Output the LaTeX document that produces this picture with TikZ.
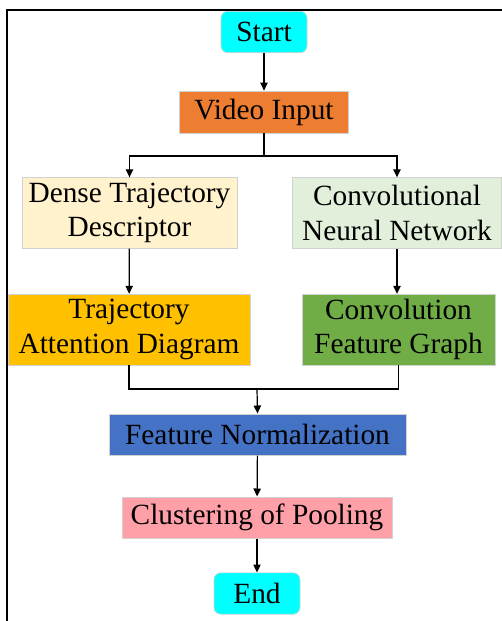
\documentclass[tikz,border=0pt]{standalone}
\usepackage{fontspec}
\setmainfont{Liberation Serif}
\usetikzlibrary{arrows.meta}

\definecolor{startcyan}{HTML}{00FFFF}
\definecolor{videoorange}{HTML}{ED7D31}
\definecolor{densecream}{HTML}{FFF2CC}
\definecolor{cnngreen}{HTML}{E2EFDA}
\definecolor{tadyellow}{HTML}{FFC000}
\definecolor{cfggreen}{HTML}{70AD47}
\definecolor{normblue}{HTML}{4472C4}
\definecolor{poolpink}{HTML}{FFA0A8}

\tikzset{
    stepbox/.style={draw=black!18, line width=0.5pt, inner sep=0pt, align=center,
        font=\fontsize{22}{26}\selectfont},
    termbox/.style={stepbox, fill=startcyan, rounded corners=5pt},
    flow/.style={line width=0.9pt, -{Triangle[length=6pt,width=5.5pt]}},
    flowline/.style={line width=0.9pt}
}

\begin{document}
\begin{tikzpicture}[x=0.75pt, y=-0.75pt]
    \useasboundingbox (0,0) rectangle (502,621);
    \draw[line width=0.8pt] (7,621) -- (7,10) -- (502,10);

    \node[termbox, minimum width=64.5pt, minimum height=31pt] (start) at (264,32) {Start};
    \node[stepbox, fill=videoorange, minimum width=127pt, minimum height=31.5pt] (video) at (264,112) {Video Input};
    \node[stepbox, fill=densecream, minimum width=161pt, minimum height=53pt] (dense) at (129.5,213) {Dense Trajectory\\Descriptor};
    \node[stepbox, fill=cnngreen, minimum width=157pt, minimum height=53pt] (cnn) at (397,213) {Convolutional\\Neural Network};
    \node[stepbox, fill=tadyellow, minimum width=181.5pt, minimum height=53pt] (tad) at (129,329.5) {Trajectory\\Attention Diagram};
    \node[stepbox, fill=cfggreen, minimum width=145pt, minimum height=53pt] (cfg) at (398.5,329.5) {Convolution\\Feature Graph};
    \node[stepbox, fill=normblue, minimum width=223pt, minimum height=31pt] (norm) at (257.5,434.5) {Feature Normalization};
    \node[stepbox, fill=poolpink, minimum width=202.5pt, minimum height=31pt] (pool) at (257,517.5) {Clustering of Pooling};
    \node[termbox, minimum width=64.5pt, minimum height=31pt] (end) at (257,593.5) {End};

    \coordinate (split) at (264,156);
    \coordinate (merge) at (257,389);

    \draw[flow] (start) -- (video);
    \draw[flowline] (video) -- (split);
    \draw[flow] (split) -| (dense.north);
    \draw[flow] (split) -| (cnn.north);
    \draw[flow] (dense) -- (tad);
    \draw[flow] (cnn.south) -- (cnn.south |- cfg.north);
    \draw[flowline] (tad.south) |- (merge);
    \draw[flowline] (cfg.south) |- (merge);
    \draw[flow] (merge) -- (norm.north);
    \draw[flow] (norm) -- (pool);
    \draw[flow] (pool) -- (end);
\end{tikzpicture}
\end{document}
